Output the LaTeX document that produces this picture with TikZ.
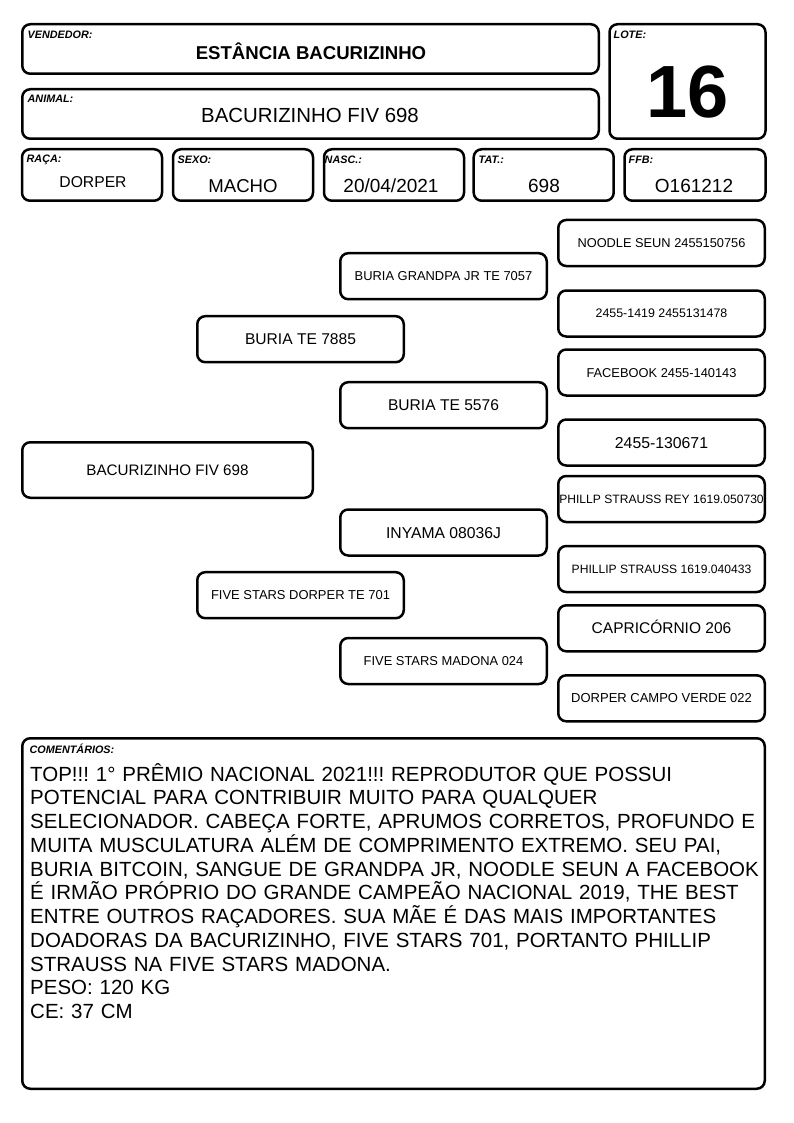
\documentclass[tikz,border=0pt]{standalone}
\usepackage{fontspec}
\setmainfont{Liberation Sans}
\frenchspacing
\begin{document}
\begin{tikzpicture}[x=1pt,y=-1pt,
  box/.style={draw=black, line width=2.5pt, rounded corners=8pt, inner sep=0pt},
  fs/.style={font=\fontsize{#1}{#1}\selectfont, text height={0.716*#1pt}, text depth=0pt},
  ped/.style={box, minimum width=206.5pt, minimum height=46pt, fs=#1},
  lbl/.style={anchor=base west, inner sep=0pt, font=\fontsize{10.8}{12}\selectfont\bfseries\itshape},
  val/.style={anchor=base, inner sep=0pt, font=\fontsize{#1}{#1}\selectfont}]
\useasboundingbox (0,0) rectangle (794,1123);
\fill[white] (0,0) rectangle (794,1123);
% header boxes
\node[box, minimum width=576.5pt, minimum height=49.5pt] (vend) at (310.5,49) {};
\node[box, minimum width=576.5pt, minimum height=49.5pt] (anim) at (310.5,114) {};
\node[box, minimum width=156pt, minimum height=114.5pt] (lote) at (687.5,81.5) {};
\node[box, minimum width=140pt, minimum height=51.5pt] (raca) at (92,175) {};
\node[box, minimum width=140pt, minimum height=51.5pt] (sexo) at (243,175) {};
\node[box, minimum width=140pt, minimum height=51.5pt] (nasc) at (394,175) {};
\node[box, minimum width=140pt, minimum height=51.5pt] (tat) at (543.7,175) {};
\node[box, minimum width=141pt, minimum height=51.5pt] (ffb) at (695,175) {};
\node[box, minimum width=742.5pt, minimum height=350.5pt] (com) at (393.5,913.5) {};
% labels
\node[lbl] (lvend) at (27.5,39) {VENDEDOR:};
\node[lbl] (lanim) at (27.5,103) {ANIMAL:};
\node[lbl] (llote) at (613.5,39) {LOTE:};
\node[lbl] (lraca) at (26.5,163) {RAÇA:};
\node[lbl] (lsexo) at (177.5,164) {SEXO:};
\node[lbl] (lnasc) at (324.5,164) {NASC.:};
\node[lbl] (ltat) at (478.5,164) {TAT.:};
\node[lbl] (lffb) at (628.5,164) {FFB:};
\node[lbl] (lcom) at (29.5,753) {COMENTÁRIOS:};
% values
\node[val=18.6, font=\fontsize{18.6}{20}\selectfont\bfseries] (tvend) at (311,60) {ESTÂNCIA BACURIZINHO};
\node[val=20.4] (tanim) at (310,123) {BACURIZINHO FIV 698};
\node[val=74, font=\fontsize{74}{80}\selectfont\bfseries] (tlote) at (688,118) {16};
\node[val=15.7] (traca) at (93,188) {DORPER};
\node[val=18.6] (tsexo) at (243,193) {MACHO};
\node[val=19] (tnasc) at (391,193) {20/04/2021};
\node[val=19] (ttat) at (544,193) {698};
\node[val=19] (tffb) at (694,193) {O161212};
% pedigree
\node[box, minimum width=290.5pt, minimum height=55.5pt, fs=15.2] (g1) at (167.5,470) {BACURIZINHO FIV 698};
\node[ped=15.6] (g2a) at (300.5,339.2) {BURIA TE 7885};
\node[ped=12.95] (g2b) at (300.5,595.2) {FIVE STARS DORPER TE 701};
\node[ped=12.9] (g3a) at (443.5,276.2) {BURIA GRANDPA JR TE 7057};
\node[ped=15.6] (g3b) at (443.5,405.2) {BURIA TE 5576};
\node[ped=15.7] (g3c) at (443.5,532.5) {INYAMA 08036J};
\node[ped=12.9] (g3d) at (443.5,661) {FIVE STARS MADONA 024};
\node[ped=12.8] (g4a) at (661.5,243) {NOODLE SEUN 2455150756};
\node[ped=12.4] (g4b) at (661.5,313.5) {2455-1419 2455131478};
\node[ped=12.85] (g4c) at (661.5,372.5) {FACEBOOK 2455-140143};
\node[ped=15.8] (g4d) at (661.5,442.5) {2455-130671};
\node[ped=12.1] (g4e) at (661.5,499) {PHILLP STRAUSS REY 1619.050730};
\node[ped=12.1] (g4f) at (661.5,569) {PHILLIP STRAUSS 1619.040433};
\node[ped=15.5] (g4g) at (661.5,628.3) {CAPRICÓRNIO 206};
\node[ped=13] (g4h) at (661.5,698.3) {DORPER CAMPO VERDE 022};
% comments
\node[anchor=base west, inner sep=0pt, text width=735pt, align=left,
      font=\fontsize{20.5}{23.75}\selectfont] (tcom) at (30,781) {TOP!!! 1° PRÊMIO NACIONAL 2021!!! REPRODUTOR QUE POSSUI\\
POTENCIAL PARA CONTRIBUIR MUITO PARA QUALQUER\\
SELECIONADOR. CABEÇA FORTE, APRUMOS CORRETOS, PROFUNDO E\\
MUITA MUSCULATURA ALÉM DE COMPRIMENTO EXTREMO. SEU PAI,\\
BURIA BITCOIN, SANGUE DE GRANDPA JR, NOODLE SEUN A FACEBOOK\\
É IRMÃO PRÓPRIO DO GRANDE CAMPEÃO NACIONAL 2019, THE BEST\\
ENTRE OUTROS RAÇADORES. SUA MÃE É DAS MAIS IMPORTANTES\\
DOADORAS DA BACURIZINHO, FIVE STARS 701, PORTANTO PHILLIP\\
STRAUSS NA FIVE STARS MADONA.\\
PESO: 120 KG\\
CE: 37 CM};
\end{tikzpicture}
\end{document}
